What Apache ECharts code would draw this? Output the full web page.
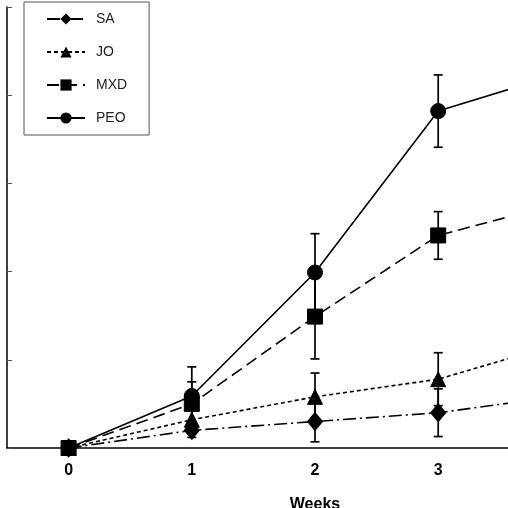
<!DOCTYPE html>
<html>
<head>
<meta charset="utf-8">
<script src="https://cdn.jsdelivr.net/npm/echarts@6/dist/echarts.min.js"></script>
<style>
html,body{margin:0;padding:0;background:#fff;}
#c{width:508px;height:508px;}
</style>
</head>
<body>
<div id="c"></div>
<script>
const weeks = ['0', '1', '2', '3', '4'];
const seriesNames = ['SA', 'JO', 'MXD', 'PEO'];
const saVals  = [0, 0.20, 0.30, 0.40, 0.59];
const joVals  = [0, 0.32, 0.58, 0.78, 1.19];
const mxdVals = [0, 0.50, 1.49, 2.41, 2.78];
const peoVals = [0, 0.59, 1.99, 3.82, 4.25];
const saErr  = [0, 0.08, 0.23, 0.27, 0.25];
const joErr  = [0, 0.15, 0.27, 0.30, 0.30];
const mxdErr = [0, 0.25, 0.48, 0.27, 0.30];
const peoErr = [0, 0.33, 0.44, 0.41, 0.40];
const yTicks = [0, 1, 2, 3, 4, 5];

const chart = echarts.init(document.getElementById('c'), null, {renderer: 'canvas'});

function errData(vals, errs) {
  return vals.map((v, i) => [i, v - errs[i], v + errs[i]]);
}
function renderErr(params, api) {
  const lo = api.coord([api.value(0), api.value(1)]);
  const hi = api.coord([api.value(0), api.value(2)]);
  if (Math.abs(hi[1] - lo[1]) < 0.5) return null;
  const hw = 4.5;
  const st = {stroke: '#000', lineWidth: 1.7};
  return {
    type: 'group',
    children: [
      {type: 'line', shape: {x1: lo[0], y1: lo[1], x2: hi[0], y2: hi[1]}, style: st},
      {type: 'line', shape: {x1: hi[0] - hw, y1: hi[1], x2: hi[0] + hw, y2: hi[1]}, style: st},
      {type: 'line', shape: {x1: lo[0] - hw, y1: lo[1], x2: lo[0] + hw, y2: lo[1]}, style: st}
    ]
  };
}
function errSeries(vals, errs) {
  return {
    type: 'custom',
    data: errData(vals, errs),
    renderItem: renderErr,
    z: 1,
    silent: true,
    clip: false,
    encode: {x: 0, y: [1, 2]}
  };
}
function lineSeries(name, vals, symbol, size, dash) {
  return {
    name: name,
    type: 'line',
    data: vals,
    symbol: symbol,
    symbolSize: size,
    showAllSymbol: true,
    z: 3,
    itemStyle: {color: '#000', borderColor: '#000'},
    lineStyle: {color: '#000', width: 1.6, type: dash},
    emphasis: {disabled: true},
    animation: false
  };
}

const option = {
  animation: false,
  backgroundColor: '#fff',
  grid: {left: 7, top: 7, bottom: 60, width: 616, containLabel: false, outerBoundsMode: 'none'},
  legend: {
    orient: 'vertical',
    left: 24,
    top: 2,
    padding: [10, 22, 10, 22],
    itemGap: 19,
    itemWidth: 38,
    itemHeight: 14,
    borderColor: '#555',
    borderWidth: 1,
    data: seriesNames,
    textStyle: {fontFamily: 'Liberation Sans, Arial, sans-serif', fontSize: 14, color: '#222', padding: [0, 0, 0, 6]}
  },
  xAxis: {
    type: 'category',
    data: weeks,
    boundaryGap: true,
    name: 'Weeks',
    nameLocation: 'middle',
    nameGap: 49,
    nameTextStyle: {fontFamily: 'Liberation Sans, Arial, sans-serif', fontSize: 16, fontWeight: 'bold', color: '#000'},
    axisLine: {lineStyle: {color: '#000', width: 1.5}},
    axisTick: {inside: true, length: 5, lineStyle: {color: '#333'}},
    axisLabel: {fontFamily: 'Liberation Sans, Arial, sans-serif', fontSize: 16, fontWeight: 'bold', color: '#000', margin: 15},
    splitLine: {show: false}
  },
  yAxis: {
    type: 'value',
    min: yTicks[0],
    max: yTicks[yTicks.length - 1],
    interval: 1,
    axisLine: {show: true, lineStyle: {color: '#000', width: 1.5}},
    axisTick: {show: true, inside: true, length: 5, lineStyle: {color: '#555'}},
    axisLabel: {show: false},
    splitLine: {show: false}
  },
  series: [
    errSeries(saVals, saErr),
    errSeries(joVals, joErr),
    errSeries(mxdVals, mxdErr),
    errSeries(peoVals, peoErr),
    lineSeries('SA', saVals, 'diamond', [15, 18], [13, 4, 2, 4]),
    lineSeries('JO', joVals, 'triangle', 15, [4, 3]),
    lineSeries('MXD', mxdVals, 'rect', 15, [12, 6]),
    lineSeries('PEO', peoVals, 'circle', 15, 'solid')
  ]
};
chart.setOption(option);
</script>
</body>
</html>
